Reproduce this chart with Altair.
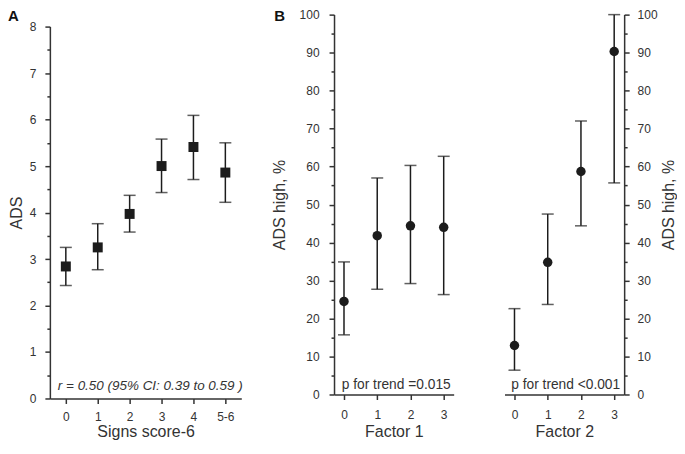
import altair as alt
import pandas as pd

# ---------------- data ----------------
signs = ["0", "1", "2", "3", "4", "5-6"]
ads_mean = [2.84, 3.25, 3.97, 5.00, 5.41, 4.86]
ads_lo = [2.43, 2.77, 3.58, 4.43, 4.71, 4.22]
ads_hi = [3.25, 3.76, 4.37, 5.58, 6.09, 5.50]

levels = ["0", "1", "2", "3"]
f1_pct = [24.5, 41.8, 44.4, 44.0]
f1_lo = [15.7, 27.7, 29.2, 26.3]
f1_hi = [34.9, 57.0, 60.3, 62.7]
f2_pct = [12.9, 34.8, 58.7, 90.3]
f2_lo = [6.4, 23.7, 44.4, 55.7]
f2_hi = [22.6, 47.5, 72.0, 100.0]

ticks_a = [0, 0.5, 1, 1.5, 2, 2.5, 3, 3.5, 4, 4.5, 5, 5.5, 6, 6.5, 7, 7.5, 8]
ticks_b = [0, 5, 10, 15, 20, 25, 30, 35, 40, 45, 50, 55, 60, 65, 70, 75, 80, 85, 90, 95, 100]

note_a = "r = 0.50 (95% CI: 0.39 to 0.59 )"
note_b1 = "p for trend =0.015"
note_b2 = "p for trend <0.001"

FONT = "Liberation Sans"
AX = "#333333"
MK = "#1c1c1c"
TXT = "#333333"

WA, HA = 192, 373
WB, HB = 120, 381


def yaxis(title, values, major, orient="left", tpad=6, lpad=9, extra=None):
    kw = dict(
        title=title, values=values, orient=orient,
        labelExpr=f"datum.value % {major} === 0 ? format(datum.value, 'd') : ''",
        tickSize={"condition": {"test": f"datum.value % {major} === 0", "value": 5}, "value": 3},
        labelFontSize=12, labelPadding=lpad, labelColor=TXT, labelFont=FONT,
        titleFontSize=16, titleFontWeight="normal", titleColor=TXT, titleFont=FONT,
        titlePadding=tpad, domainColor=AX, domainWidth=1.5, tickColor=AX, tickWidth=1.5,
        grid=False,
    )
    if extra:
        kw.update(extra)
    return alt.Axis(**kw)


def xaxis(title, tpad, lpad):
    return alt.Axis(
        title=title, labelAngle=0, labelFontSize=12, labelPadding=lpad, labelColor=TXT,
        labelFont=FONT, titleFontSize=16, titleFontWeight="normal", titleColor=TXT,
        titleFont=FONT, titlePadding=tpad, domainColor=AX, domainWidth=1.5,
        tickColor=AX, tickWidth=1.5, tickSize=5, grid=False,
    )


def panel(df, cats, pad, ydomain, yax, xax, shape, size):
    xs = alt.X("cat:O", sort=cats, scale=alt.Scale(type="point", padding=pad), axis=xax)
    ysc = alt.Scale(domain=ydomain, nice=False, zero=False)
    base = alt.Chart(df)
    rule = base.mark_rule(color=MK, strokeWidth=1.5).encode(
        x=xs, y=alt.Y("lo:Q", scale=ysc, axis=yax), y2="hi:Q")
    cap_lo = base.mark_tick(color=MK, size=12, thickness=1.5).encode(
        x=xs, y=alt.Y("lo:Q", scale=ysc, axis=yax))
    cap_hi = base.mark_tick(color=MK, size=12, thickness=1.5).encode(
        x=xs, y=alt.Y("hi:Q", scale=ysc, axis=yax))
    if shape == "square":
        pts = base.mark_point(shape="square", filled=True, size=size, color=MK, opacity=1)
    else:
        pts = base.mark_circle(size=size, color=MK, opacity=1)
    pts = pts.encode(x=xs, y=alt.Y("m:Q", scale=ysc, axis=yax))
    return [rule, cap_lo, cap_hi, pts]


def note(text, x, y, align, size, style="normal"):
    return alt.Chart(pd.DataFrame({"t": [text]})).mark_text(
        align=align, baseline="alphabetic", font=FONT, fontSize=size,
        fontStyle=style, color=TXT,
    ).encode(x=alt.value(x), y=alt.value(y), text="t:N")


def letter(text, x, y):
    return alt.Chart(pd.DataFrame({"t": [text]})).mark_text(
        align="left", baseline="top", font=FONT, fontSize=15,
        fontWeight="bold", color="#111111",
    ).encode(x=alt.value(x), y=alt.value(y), text="t:N")


dfA = pd.DataFrame({"cat": signs, "m": ads_mean, "lo": ads_lo, "hi": ads_hi})
dfB1 = pd.DataFrame({"cat": levels, "m": f1_pct, "lo": f1_lo, "hi": f1_hi})
dfB2 = pd.DataFrame({"cat": levels, "m": f2_pct, "lo": f2_lo, "hi": f2_hi})

A = alt.layer(
    *panel(dfA, signs, 0.5, [0, 8], yaxis("ADS", ticks_a, 1, tpad=5),
           xaxis("Signs score-6", 1, 8), "square", 100),
    note(note_a, 8, HA - 9, "left", 13.5, "italic"),
    letter("A", -42, -18),
).properties(width=WA, height=HA)

B1 = alt.layer(
    *panel(dfB1, levels, 0.3, [0, 100], yaxis("ADS high, %", ticks_b, 10, tpad=12, lpad=10),
           xaxis("Factor 1", 3, 10), "circle", 90),
    note(note_b1, WB - 3, HB - 6, "right", 13.8),
    letter("B", -60, -6),
).properties(width=WB, height=HB)

B2 = alt.layer(
    *panel(dfB2, levels, 0.3, [0, 100],
           yaxis("ADS high, %", ticks_b, 10, orient="right", tpad=3, lpad=8,
                 extra=dict(titleAngle=270, titleBaseline="top")),
           xaxis("Factor 2", 3, 10), "circle", 90),
    note(note_b2, WB - 4, HB - 6, "right", 13.8),
).properties(width=WB, height=HB)

spacer = alt.Chart(pd.DataFrame({"a": [0]})).mark_point(opacity=0, size=1).properties(
    width=WA, height=12)

colA = alt.vconcat(spacer, A, spacing=0, bounds="flush")
rowB = alt.hconcat(B1, B2, spacing=51, bounds="flush")

chart = alt.hconcat(colA, rowB, spacing=285, bounds="flush").properties(
    padding={"left": 0, "top": 0, "right": 0, "bottom": 0}
).configure(font=FONT).configure_view(stroke=None)

chart.save("out.html", embed_options={"renderer": "svg", "actions": False})
